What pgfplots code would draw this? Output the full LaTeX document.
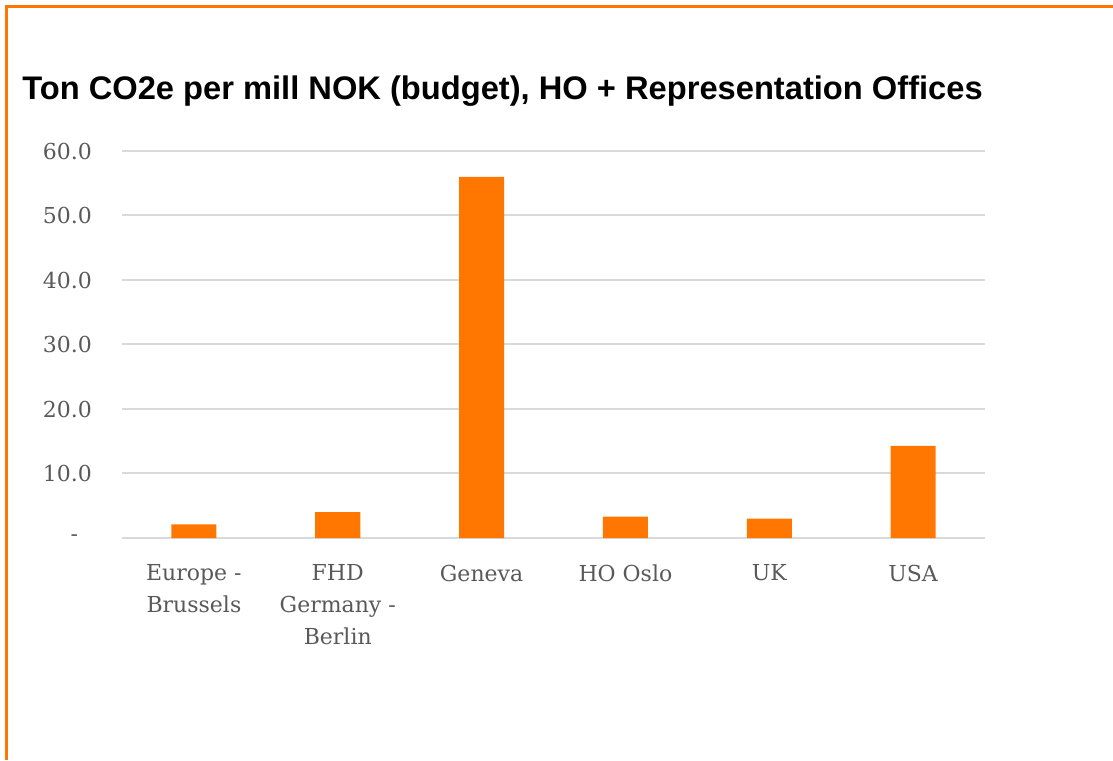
\documentclass[border=0pt]{standalone}
\usepackage{pgfplots}
\pgfplotsset{compat=1.18}
\usepackage{fontspec}
\setmainfont{DejaVu Serif}
\newfontfamily\titlefont{Liberation Sans}
\definecolor{barorange}{HTML}{FF7700}
\definecolor{gridgray}{HTML}{D9D9D9}
\definecolor{labelgray}{HTML}{595959}
\begin{document}
\begin{tikzpicture}[x=0.75pt,y=0.75pt]
\path[use as bounding box] (0,0) rectangle (1113,760);
\draw[barorange, line width=2.25pt] (6.5,0) -- (6.5,753.5) -- (1113,753.5);
\node[anchor=base west, inner sep=0pt, font=\titlefont\bfseries\fontsize{24.5}{28}\selectfont] at (22,660) {Ton CO2e per mill NOK (budget), HO + Representation Offices};
\begin{axis}[at={(91.5pt,166.5pt)}, anchor=south west, scale only axis,
  width=647.25pt, height=290.25pt,
  ymin=0, ymax=60, xmin=-0.5, xmax=5.5,
  ybar, bar width=33.75pt,
  axis line style={draw=none}, major tick length=0pt,
  ytick={0,10,20,30,40,50,60},
  yticklabels={{-\kern 10.5pt\relax},10.0,20.0,30.0,40.0,50.0,60.0},
  xtick={0,1,2,3,4,5},
  xticklabels={{Europe -\\Brussels},{FHD\\Germany -\\Berlin},Geneva,HO Oslo,UK,USA},
  ymajorgrids, grid style={gridgray, line width=1.5pt},
  tick label style={font=\fontsize{16.5}{24}\selectfont, text=labelgray},
  xticklabel style={align=center, yshift=-16.5pt},
  yticklabel style={xshift=-19pt},
  clip=false]
\addplot[fill=barorange, draw=none] coordinates {(0,2.1) (1,4.0) (2,56.0) (3,3.3) (4,3.0) (5,14.3)};
\end{axis}
\end{tikzpicture}
\end{document}
